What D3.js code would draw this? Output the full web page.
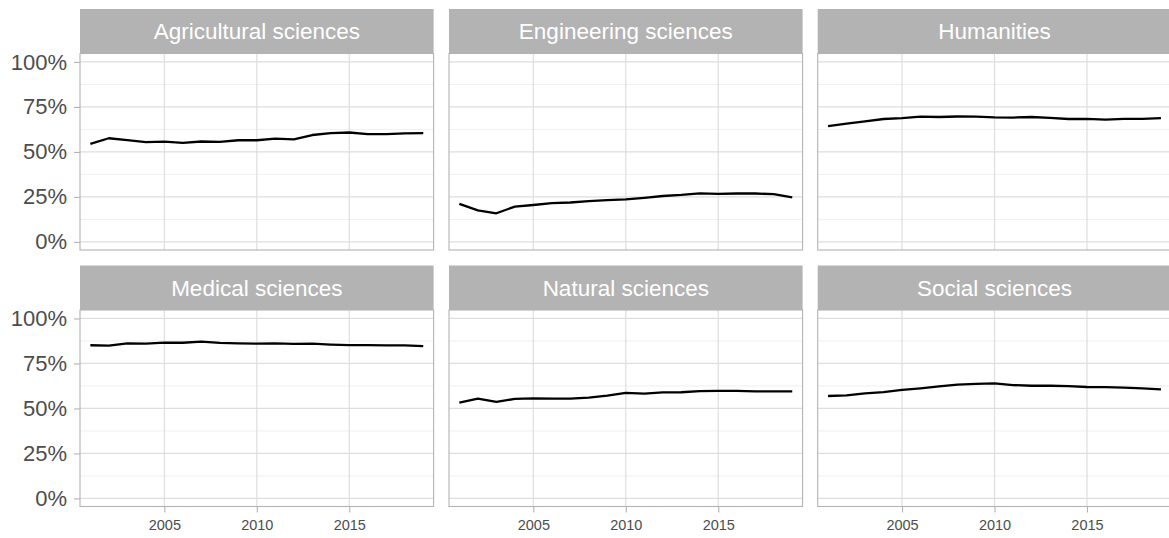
<!DOCTYPE html>
<html>
<head>
<meta charset="utf-8">
<script src="https://cdn.jsdelivr.net/npm/d3@7"></script>
<style>
  html, body { margin: 0; padding: 0; background: #fff; }
  svg { display: block; }
  text { font-family: "Liberation Sans", Arial, Helvetica, sans-serif; }
</style>
</head>
<body>
<svg id="chart" width="1169" height="538"></svg>
<script>
// Share of the discipline's output per year, one panel per field
const years = [2001, 2002, 2003, 2004, 2005, 2006, 2007, 2008, 2009, 2010,
               2011, 2012, 2013, 2014, 2015, 2016, 2017, 2018, 2019];

const fields = ["Agricultural sciences", "Engineering sciences", "Humanities",
                "Medical sciences", "Natural sciences", "Social sciences"];

const agricultural = [0.545, 0.576, 0.566, 0.555, 0.557, 0.550, 0.558, 0.556, 0.565, 0.565,
                      0.574, 0.570, 0.594, 0.604, 0.608, 0.599, 0.599, 0.603, 0.605];
const engineering  = [0.211, 0.175, 0.159, 0.196, 0.205, 0.215, 0.219, 0.227, 0.232, 0.236,
                      0.245, 0.255, 0.261, 0.270, 0.267, 0.269, 0.269, 0.265, 0.248];
const humanities   = [0.643, 0.657, 0.670, 0.683, 0.688, 0.696, 0.694, 0.697, 0.696, 0.692,
                      0.691, 0.694, 0.689, 0.683, 0.684, 0.680, 0.684, 0.684, 0.688];
const medical      = [0.851, 0.849, 0.862, 0.860, 0.866, 0.865, 0.871, 0.864, 0.861, 0.860,
                      0.862, 0.859, 0.860, 0.855, 0.852, 0.852, 0.850, 0.850, 0.846];
const natural      = [0.532, 0.555, 0.536, 0.553, 0.556, 0.555, 0.555, 0.560, 0.571, 0.587,
                      0.582, 0.589, 0.590, 0.596, 0.597, 0.598, 0.595, 0.595, 0.595];
const social       = [0.569, 0.573, 0.584, 0.591, 0.603, 0.612, 0.622, 0.632, 0.637, 0.639,
                      0.630, 0.626, 0.626, 0.624, 0.619, 0.618, 0.616, 0.612, 0.606];

const seriesByField = [agricultural, engineering, humanities, medical, natural, social];

const xTicks = [2005, 2010, 2015];
const yTicks = [0, 0.25, 0.5, 0.75, 1];
const yMinor = [0.125, 0.375, 0.625, 0.875];

// Facet grid geometry
const colLeft = [80, 449, 817.7];
const panelW = 353.6;
const rowTop = [9, 265.5];
const stripH = 44.5;
const panelH = 196.5;

const grey70 = "#b3b3b3";
const gridMajor = "#dedede";
const gridMinor = "#ebebeb";
const axisText = "#4d4d4d";

const x = d3.scaleLinear().domain([2000.44, 2019.56]).range([0, panelW]);
const y = d3.scaleLinear().domain([-0.045, 1.047]).range([panelH, 0]);
const pct = d3.format(".0%");

const svg = d3.select("#chart");

const line = d3.line()
  .x((d, i) => x(years[i]))
  .y(d => y(d));

fields.forEach((name, k) => {
  const col = k % 3, row = Math.floor(k / 3);
  const left = colLeft[col];
  const top = rowTop[row];
  const g = svg.append("g").attr("transform", `translate(${left},${top})`);

  // strip
  g.append("rect")
    .attr("x", 0).attr("y", 0)
    .attr("width", panelW).attr("height", stripH)
    .attr("fill", grey70);
  g.append("text")
    .attr("x", panelW / 2).attr("y", stripH / 2)
    .attr("dy", "0.36em")
    .attr("text-anchor", "middle")
    .attr("fill", "#ffffff")
    .attr("font-size", 22.5)
    .text(name);

  const p = g.append("g").attr("transform", `translate(0,${stripH})`);

  // grid
  p.selectAll("line.ymin").data(yMinor).join("line")
    .attr("x1", 0).attr("x2", panelW)
    .attr("y1", d => y(d)).attr("y2", d => y(d))
    .attr("stroke", gridMinor).attr("stroke-width", 0.8);
  p.selectAll("line.ymaj").data(yTicks).join("line")
    .attr("x1", 0).attr("x2", panelW)
    .attr("y1", d => y(d)).attr("y2", d => y(d))
    .attr("stroke", gridMajor).attr("stroke-width", 1.2);
  p.selectAll("line.xmaj").data(xTicks).join("line")
    .attr("y1", 0).attr("y2", panelH)
    .attr("x1", d => x(d)).attr("x2", d => x(d))
    .attr("stroke", gridMajor).attr("stroke-width", 1.2);

  // data line
  p.append("path")
    .datum(seriesByField[k])
    .attr("d", line)
    .attr("fill", "none")
    .attr("stroke", "#000")
    .attr("stroke-width", 2.3)
    .attr("stroke-linejoin", "round");

  // border
  p.append("rect")
    .attr("x", 0).attr("y", 0)
    .attr("width", panelW).attr("height", panelH)
    .attr("fill", "none")
    .attr("stroke", grey70).attr("stroke-width", 1.1);

  // y axis on the first column
  if (col === 0) {
    const ay = p.append("g").call(
      d3.axisLeft(y).tickValues(yTicks).tickFormat(pct).tickSize(6).tickPadding(7));
    ay.select(".domain").remove();
    ay.selectAll(".tick line").attr("stroke", grey70).attr("stroke-width", 1.1);
    ay.selectAll(".tick text")
      .attr("fill", axisText)
      .attr("font-size", 22)
      .attr("font-family", "Liberation Sans, Arial, sans-serif");
  }

  // x axis on the bottom row
  if (row === 1) {
    const ax = p.append("g").attr("transform", `translate(0,${panelH})`).call(
      d3.axisBottom(x).tickValues(xTicks).tickFormat(d3.format("d")).tickSize(6).tickPadding(7));
    ax.select(".domain").remove();
    ax.selectAll(".tick line").attr("stroke", grey70).attr("stroke-width", 1.1);
    ax.selectAll(".tick text")
      .attr("fill", axisText)
      .attr("font-size", 14.5)
      .attr("font-family", "Liberation Sans, Arial, sans-serif");
  }
});
</script>
</body>
</html>
